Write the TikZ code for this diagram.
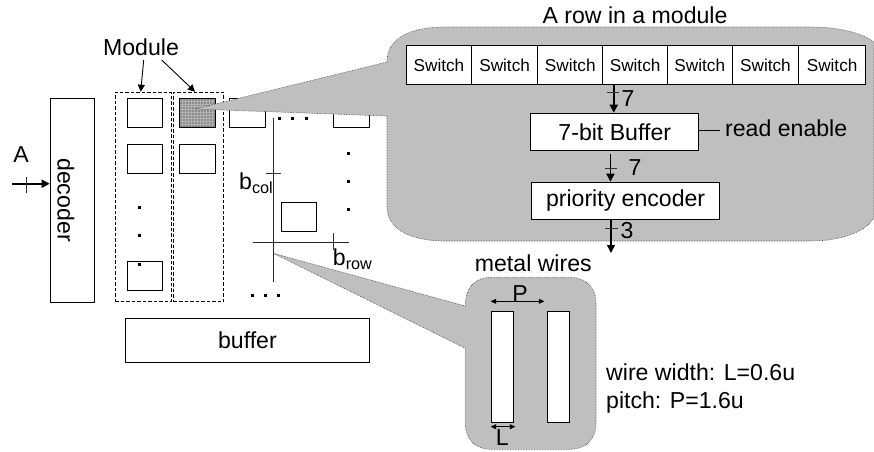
\documentclass[tikz,border=0pt]{standalone}
\usepackage{fontspec}
\setmainfont{Liberation Sans}
\usetikzlibrary{arrows.meta,calc}
\newcommand{\lgfont}{\fontsize{23.1}{25}\selectfont}
\newcommand{\smfont}{\fontsize{17.2}{19}\selectfont}
\newcommand{\subs}[1]{\raisebox{-4.5pt}{\fontsize{16.2}{18}\selectfont #1}}
\tikzset{
  x=1pt,y=-1pt,
  lbl/.style={inner sep=0pt,font=\lgfont},
  boxn/.style={draw=black,fill=white,line width=0.9pt,anchor=north west,inner sep=0pt,font=\lgfont},
  sq/.style={boxn,minimum width=35.3pt,minimum height=28.8pt},
  cell/.style={boxn,minimum height=39pt,font=\smfont},
  mod/.style={draw=black,dash pattern=on 3.5pt off 2pt,line width=0.8pt,anchor=north west,minimum height=209.6pt,inner sep=0pt},
  arr/.style={-{Triangle[length=8pt,width=8pt]},line width=1.9pt},
  thin arr/.style={-{Triangle[length=7pt,width=7pt]},line width=0.9pt},
  both arr/.style={{Triangle[length=5.5pt,width=5pt]}-{Triangle[length=5.5pt,width=5pt]},line width=0.9pt},
  tickmark/.style={line width=0.7pt,draw=black!80},
  callout/.style={fill=black!25,draw=black!75,densely dotted,line width=0.6pt},
  dotmark/.style={fill=black,minimum size=3pt,inner sep=0pt,draw=none,rectangle},
}
\begin{document}
\begin{tikzpicture}
\useasboundingbox (0,0) rectangle (874,451);

% decoder and input
\node[boxn,minimum width=44pt,minimum height=203.7pt] (dec) at (49.7,98) {};
\node[lbl,rotate=-90] (dectext) at (66,200) {decoder};
\node[lbl] (Alab) at (21,155) {A};
\coordinate (Ain) at (12,183.7);
\draw[arr] (Ain) -- (Ain -| dec.west);
\draw[tickmark] (26.7,176.7) -- (26.7,193);

% module frames
\node[mod,minimum width=56pt] (m1) at (114.7,91.7) {};
\node[mod,minimum width=50pt] (m2) at (173.3,91.7) {};
\node[lbl] (modlab) at (141,47) {Module};
\coordinate (ma) at (143.7,60);
\coordinate (mb) at (161.7,60);
\draw[thin arr] (ma) -- (140.7,91.7);
\draw[thin arr] (mb) -- (195,91.7);

% array squares
\node[sq] (s11) at (126.7,98) {};
\node[sq] (s12) at (126.7,144.3) {};
\node[sq] (s13) at (126.7,260.7) {};
\node[sq,fill=black!45] (s21) at (179.3,98) {};
\foreach \k in {1,...,11} \draw[black!30,line width=0.35pt] (179.3+\k*2.95,98.5) -- (179.3+\k*2.95,126.4);
\foreach \k in {1,...,9} \draw[black!30,line width=0.35pt] (179.8,98+\k*2.88) -- (214.2,98+\k*2.88);
\node[sq,fill=none] at (179.3,98) {};
\node[sq] (s22) at (179.3,144.3) {};
\node[sq] (s31) at (229.3,98) {};
\node[sq] (s41) at (333.3,98) {};
\node[sq] (smid) at (280.7,201.7) {};

% dots
\foreach \p in {(139,207.3),(139,235),(139,264.3),
  (279.3,118),(292.7,118),(306,118),
  (348.3,153),(348.3,181),(348.3,209),
  (252,295.7),(265.3,295.7),(278.7,295.7)}
  \node[dotmark] at \p {};

% bit lines
\coordinate (vt) at (273.3,118.3);
\coordinate (vb) at (273.3,281.7);
\coordinate (hl) at (252.7,242.3);
\coordinate (hr) at (348.7,242.3);
\draw[line width=0.8pt,draw=black!85] (vt) -- (vb);
\draw[line width=0.8pt,draw=black!85] (hl) -- (hr);
\draw[tickmark] (266,173.3) -- (281,173.3);
\draw[tickmark] (333.3,233) -- (333.3,250);
\node[lbl,anchor=base west] (bcol) at (239,189) {b\subs{col}};
\node[lbl,anchor=base west] (brow) at (332.7,265) {b\subs{row}};

% buffer
\node[boxn,minimum width=243.4pt,minimum height=43.7pt] (buf0) at (125.3,318.3) {buffer};

% upper callout
\coordinate (tipa) at (195,109);
\path[callout] (387,62) -- (tipa) -- (387,116) -- (387,207)
  .. controls (387,230) and (412,241) .. (445,241) -- (810,241)
  .. controls (845,241) and (868,230) .. (874,217) -- (874,42)
  .. controls (862,33) and (840,27) .. (810,27) -- (445,27)
  .. controls (410,27) and (387,38) .. (387,62) -- cycle;
\node[lbl] (rowlab) at (635,15.5) {A row in a module};

% switches
\foreach \nn/\xa/\wb in {1/406/65,2/471/66.3,3/537.3/65,4/602.3/64.7,5/667/64.7,6/731.7/66.6,7/798.3/66.7}
  \node[cell,minimum width=\wb pt] (sw\nn) at (\xa,45) {Switch};

\node[boxn,minimum width=168pt,minimum height=37.3pt] (bufb) at (530.3,112.7) {7-bit Buffer};
\node[boxn,minimum width=188.3pt,minimum height=37.6pt] (enc) at (531,181.7) {priority encoder};

\draw[arr] ([xshift=-1pt]bufb.north |- sw4.south) -- ([xshift=-1pt]bufb.north);
\draw[tickmark] (606.7,92.7) -- (619,92.7);
\node[lbl] (n7a) at (628,99) {7};
\draw[arr] ([xshift=-4.3pt,yshift=-3pt]bufb.south) -- ([xshift=-4.3pt]bufb.south |- enc.north);
\draw[tickmark] (605,168) -- (617,168);
\node[lbl] (n7b) at (635,168) {7};
\coordinate (out) at (611,253);
\draw[arr,line width=1.3pt] (out |- enc.south) -- (out);
\draw[tickmark] (605,228) -- (618,228);
\node[lbl] (n3) at (627,231) {3};
\node[lbl,anchor=west] (re) at (725,128) {read enable};
\coordinate (rea) at (698.3,130);
\coordinate (reb) at (720,130);
\draw[line width=0.7pt] (rea) -- (reb);

% lower callout
\coordinate (tipb) at (273.3,253.3);
\path[callout] (465.3,306) -- (tipb) -- (465.3,348.3) -- (465.3,422)
  .. controls (465.3,440) and (475,449.3) .. (492,449.3) -- (569,449.3)
  .. controls (586,449.3) and (596,440) .. (596,422) -- (596,304)
  .. controls (596,287) and (586,277.3) .. (569,277.3) -- (492,277.3)
  .. controls (475,277.3) and (465.3,287) .. (465.3,306) -- cycle;
\node[lbl] (mw) at (533.3,263) {metal wires};

\node[boxn,minimum width=22.6pt,minimum height=111.3pt] (w1) at (490.7,310.7) {};
\node[boxn,minimum width=22.6pt,minimum height=111.3pt] (w2) at (546.7,310.7) {};
\coordinate (pa) at (490.7,301.3);
\coordinate (pb) at (544.3,301.3);
\draw[both arr] (pa) -- (pb);
\node[lbl] (Plab) at (520,294) {P};
\coordinate (la) at (490.7,426.7);
\coordinate (lb) at (515.3,426.7);
\draw[both arr] (la) -- (lb);
\node[lbl] (Llab) at (502.3,438) {L};

\node[lbl,anchor=west] (t1) at (606,372) {wire width: L=0.6u};
\node[lbl,anchor=west] (t2) at (606,403) {pitch: P=1.6u};
\end{tikzpicture}
\end{document}
